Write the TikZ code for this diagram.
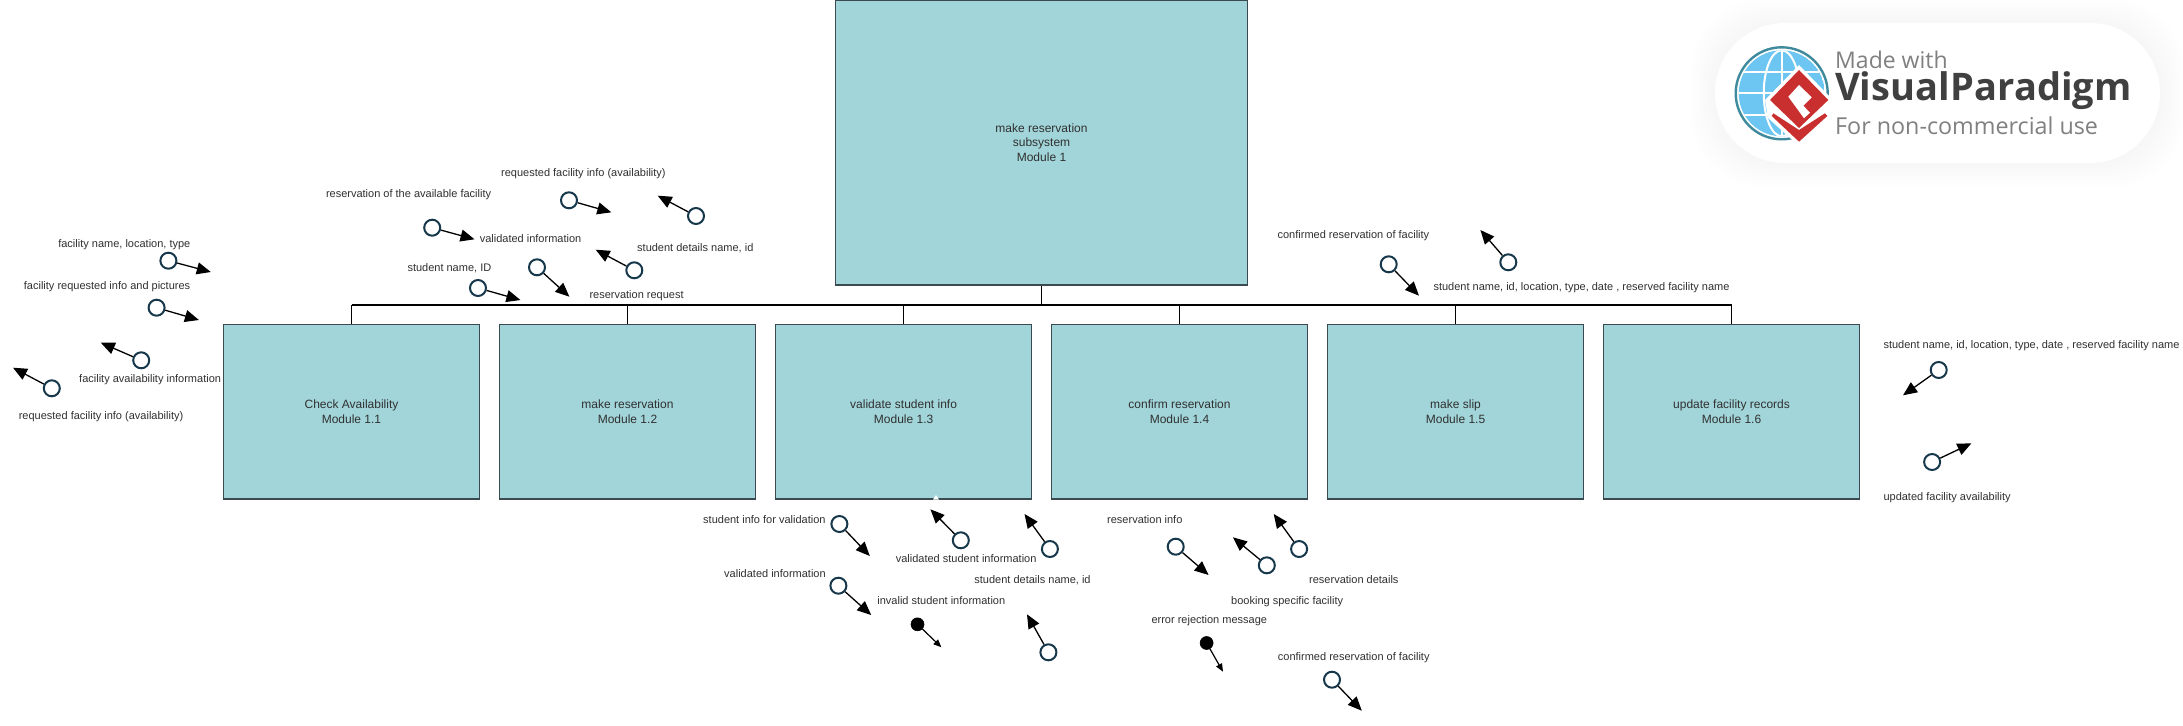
\documentclass[tikz,border=0pt]{standalone}
\usepackage{fontspec}
\setmainfont{Liberation Sans}
\newfontfamily\logofont{Open Sans}
\usetikzlibrary{arrows.meta}
\definecolor{boxfill}{HTML}{A2D5D9}
\definecolor{boxline}{HTML}{3A4A50}
\definecolor{ringcol}{HTML}{16384A}
\definecolor{txtcol}{HTML}{303030}
\definecolor{logored}{HTML}{C92F2F}
\definecolor{logoblue}{HTML}{6DC6F2}
\definecolor{logoteal}{HTML}{3F8A9C}
\tikzset{
  modbox/.style={draw=boxline,line width=1.2pt,fill=boxfill,rectangle,inner sep=0pt,
    minimum width=256.5pt,minimum height=174.5pt,align=center,text=txtcol,
    font=\fontsize{12}{14.7}\selectfont},
  topbox/.style={modbox,minimum width=412.4pt,minimum height=285pt},
  lbl/.style={anchor=mid west,inner sep=0pt,yshift=-2.3pt,text=txtcol,font=\fontsize{11}{14}\selectfont},
  openflow/.style={circle,draw=ringcol,line width=2pt,fill=white,inner sep=0pt,minimum size=16pt},
  dotflow/.style={circle,draw=black,line width=0.6pt,fill=black,inner sep=0pt,minimum size=13pt},
  bigarrow/.style={draw=black,line width=1.3pt,-{Triangle[length=14pt,width=12pt]}},
  smallarrow/.style={draw=black,line width=1.2pt,-{Triangle[length=8pt,width=6.5pt]}},
  treeline/.style={draw=black,line width=1.2pt},
  busline/.style={draw=black,line width=1.8pt},
  logotxt/.style={anchor=mid west,inner sep=0pt,yshift=-5pt}
}
\begin{document}
\begin{tikzpicture}[x=1pt,y=-1pt]
\useasboundingbox (0,0) rectangle (2183,725);
\fill[white] (0,0) rectangle (2183,725);

% boxes
\node[topbox] (top) at (1041.5,142.5) {make reservation\\subsystem\\Module 1};
\node[modbox] (m1) at (351.5,411.7) {Check Availability\\Module 1.1};
\node[modbox] (m2) at (627.5,411.7) {make reservation\\Module 1.2};
\node[modbox] (m3) at (903.6,411.7) {validate student info\\Module 1.3};
\node[modbox] (m4) at (1179.5,411.7) {confirm reservation\\Module 1.4};
\node[modbox] (m5) at (1455.5,411.7) {make slip\\Module 1.5};
\node[modbox] (m6) at (1731.5,411.7) {update facility records\\Module 1.6};

% tree
\coordinate (busL) at (351.5,304.7);
\coordinate (busR) at (1731.5,304.7);
\draw[busline] (busL) -- (busR);
\coordinate (busT) at (1041.5,304.7);
\draw[treeline] (top.south) -- (busT);
\foreach \m in {m1,m2,m3,m4,m5,m6}{
  \draw[treeline] (\m.north) -- (\m.north |- busL);
}
\fill[white] (936,495) -- (939,499.6) -- (933,499.6) -- cycle;

% labels
\node[lbl] (l1) at (58.1,242.3) {facility name, location, type};
\node[lbl] (l2) at (23.7,285) {facility requested info and pictures};
\node[lbl] (l3) at (79,377.3) {facility availability information};
\node[lbl] (l4) at (18.6,414.3) {requested facility info (availability)};
\node[lbl] (l5) at (325.8,192.3) {reservation of the available facility};
\node[lbl] (l6) at (479.6,237.3) {validated information};
\node[lbl] (l7) at (501,171.3) {requested facility info (availability)};
\node[lbl] (l8) at (407.3,266.3) {student name, ID};
\node[lbl] (l9) at (637,246.3) {student details name, id};
\node[lbl] (l10) at (589.3,293.3) {reservation request};
\node[lbl] (l11) at (1277.4,233.3) {confirmed reservation of facility};
\node[lbl] (l12) at (1433.3,285.3) {student name, id, location, type, date , reserved facility name};
\node[lbl] (l13) at (1883.3,343.3) {student name, id, location, type, date , reserved facility name};
\node[lbl] (l14) at (1883.3,495.3) {updated facility availability};
\node[lbl] (l15) at (703,518.3) {student info for validation};
\node[lbl] (l16) at (895.6,557.3) {validated student information};
\node[lbl] (l17) at (974.2,578.7) {student details name, id};
\node[lbl] (l18) at (724,572.3) {validated information};
\node[lbl] (l19) at (877.2,599.3) {invalid student information};
\node[lbl] (l20) at (1107,518.3) {reservation info};
\node[lbl] (l21) at (1309,578.7) {reservation details};
\node[lbl] (l22) at (1231,599.3) {booking specific facility};
\node[lbl] (l23) at (1151.3,618.3) {error rejection message};
\node[lbl] (l24) at (1277.7,655.3) {confirmed reservation of facility};

% couples: open circles
\node[openflow] (c1) at (168.4,260.7) {};   \coordinate (t1) at (210.8,272);
\node[openflow] (c2) at (156.6,307.7) {};   \coordinate (t2) at (198.9,320);
\node[openflow] (c3) at (141.2,360.3) {};   \coordinate (t3) at (100.8,342.7);
\node[openflow] (c4) at (51.8,388.3) {};    \coordinate (t4) at (13,367.7);
\node[openflow] (c5) at (432.2,227.7) {};   \coordinate (t5) at (474.5,239.3);
\node[openflow] (c6) at (569,200.3) {};     \coordinate (t6) at (611.3,212.3);
\node[openflow] (c7) at (478,288) {};       \coordinate (t7) at (520.4,300);
\node[openflow] (c8) at (537,267.3) {};     \coordinate (t8) at (569.4,296.7);
\node[openflow] (c9) at (634.3,270.3) {};   \coordinate (t9) at (595.7,249.7);
\node[openflow] (c10) at (696,216) {};      \coordinate (t10) at (657.7,195.7);
\node[openflow] (c11) at (1388.7,264.3) {}; \coordinate (t11) at (1419,295.7);
\node[openflow] (c12) at (1508.3,262.3) {}; \coordinate (t12) at (1480.4,230);
\node[openflow] (c13) at (1938.7,370) {};   \coordinate (t13) at (1903,395.3);
\node[openflow] (c14) at (1932.1,462) {};   \coordinate (t14) at (1971.4,443.3);
\node[openflow] (c15) at (839.4,524) {};    \coordinate (t15) at (869.8,556);
\node[openflow] (c16) at (960.8,540.3) {};  \coordinate (t16) at (930.4,509.3);
\node[openflow] (c17) at (1049.9,549) {};   \coordinate (t17) at (1024.5,514);
\node[openflow] (c18) at (838.4,585.7) {};  \coordinate (t18) at (871.2,615);
\node[openflow] (c19) at (1048.4,652.3) {}; \coordinate (t19) at (1027,614.3);
\node[openflow] (c20) at (1175.7,546.7) {}; \coordinate (t20) at (1208.6,575);
\node[openflow] (c21) at (1266.8,565.3) {}; \coordinate (t21) at (1232.9,537.3);
\node[openflow] (c22) at (1299.1,549) {};   \coordinate (t22) at (1273.7,514);
\node[openflow] (c23) at (1332,679.7) {};   \coordinate (t23) at (1361.8,710.7);
\foreach \i in {1,...,23}{
  \draw[bigarrow] (c\i) -- (t\i);
}
% couples: filled circles
\node[dotflow] (d1) at (917.5,624.3) {};    \coordinate (u1) at (941.4,647.3);
\node[dotflow] (d2) at (1206.6,643) {};     \coordinate (u2) at (1223,671.7);
\draw[smallarrow] (d1) -- (u1);
\draw[smallarrow] (d2) -- (u2);

% watermark badge
\foreach \s in {24,21,...,0}{
  \fill[black,opacity=0.005,rounded corners=70pt] (1715-\s,23-\s) rectangle (2160+\s,163+\s);
}
\fill[white,rounded corners=70pt] (1715,23) rectangle (2160,163);
\begin{scope}
  \clip (1781.7,93.3) circle[radius=43pt];
  \fill[logoblue] (1781.7,93.3) circle[radius=43pt];
  \draw[white,line width=2pt] (1781.7,93.3) ellipse[x radius=18pt,y radius=43pt];
  \draw[white,line width=2pt] (1781.7,50) -- (1781.7,137);
  \draw[white,line width=2pt] (1735,71.7) -- (1830,71.7);
  \draw[white,line width=2pt] (1735,93.3) -- (1830,93.3);
  \draw[white,line width=2pt] (1735,115) -- (1830,115);
\end{scope}
\draw[logoteal,line width=2.4pt] (1781.7,93.3) circle[radius=46pt];
\fill[white] (1799,65) -- (1833,100) -- (1831,118) -- (1799,146) -- (1768,118) -- (1765,100) -- cycle;
\fill[logored] (1773.3,113.3) -- (1799,130) -- (1825,113.3) -- (1827.3,116) -- (1799,141.7) -- (1771.7,116) -- cycle;
\fill[logored] (1799,70) -- (1828.3,100) -- (1799,128) -- (1770,100) -- cycle;
\fill[white] (1799,85) -- (1811.7,97.3) -- (1803.3,105.7) -- (1810,112.7) -- (1804,118.3) -- (1788.3,96.7) -- cycle;
\node[logotxt,font=\logofont\fontsize{23}{26}\selectfont,text=black!50] (lg1) at (1835,61) {Made with};
\node[logotxt,font=\logofont\bfseries\fontsize{38}{41}\selectfont,text=black!75] (lg2) at (1835,93) {Visual\kern1pt Paradigm};
\node[logotxt,font=\logofont\fontsize{23.3}{26}\selectfont,text=black!50] (lg3) at (1835,127) {For non-commercial use};
\end{tikzpicture}
\end{document}
